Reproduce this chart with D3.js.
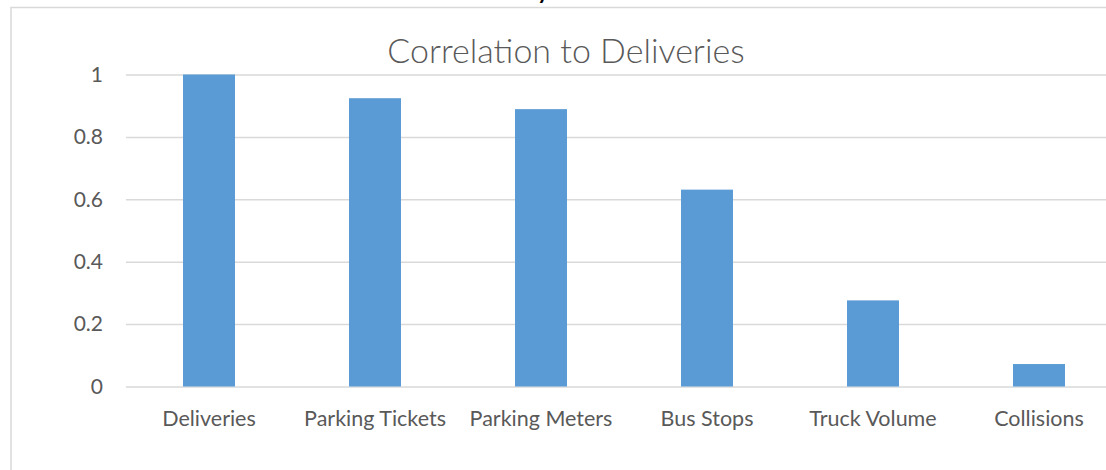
<!DOCTYPE html>
<html>
<head>
<meta charset="utf-8">
<script src="https://cdn.jsdelivr.net/npm/d3@7"></script>
<style>
  html, body { margin: 0; padding: 0; background: #fff; }
  svg { display: block; }
  text { font-family: Lato, "Open Sans", sans-serif; }
</style>
</head>
<body>
<svg id="chart" width="1106" height="470"></svg>
<script>
// Correlation of each factor with delivery counts
const categories = ["Deliveries", "Parking Tickets", "Parking Meters", "Bus Stops", "Truck Volume", "Collisions"];
const correlations = [1, 0.924, 0.889, 0.631, 0.276, 0.072];
const tickValues = [0, 0.2, 0.4, 0.6, 0.8, 1];
const chartTitle = "Correlation to Deliveries";

const svg = d3.select("#chart");
const W = 1106, H = 470;

// plot area (extends past the right edge of the frame)
const plot = { left: 126, right: 1122, top: 74.5, bottom: 386.5 };

const gap = 1 - 52 / 166;
const x = d3.scaleBand()
  .domain(categories)
  .range([plot.left, plot.right])
  .paddingInner(gap)
  .paddingOuter(gap / 2);

const y = d3.scaleLinear()
  .domain([0, 1])
  .range([plot.bottom, plot.top]);

// chart frame
svg.append("path")
  .attr("d", `M11,${H + 2} L11,7.5 L${W + 2},7.5`)
  .attr("fill", "none")
  .attr("stroke", "#d9d9d9")
  .attr("stroke-width", 1.5);

// tail of a heading that sits above the frame
svg.append("text")
  .attr("x", 543)
  .attr("y", -1)
  .attr("text-anchor", "middle")
  .attr("font-size", 22)
  .attr("font-weight", "bold")
  .attr("fill", "#000")
  .text("y");

// gridlines + y labels
const yAxis = d3.axisLeft(y)
  .tickValues(tickValues)
  .tickSize(-(plot.right - plot.left))
  .tickPadding(23)
  .tickFormat(d => d3.format("")(+d.toFixed(1)));

const gy = svg.append("g")
  .attr("transform", `translate(${plot.left},0)`)
  .call(yAxis);
gy.select(".domain").remove();
gy.selectAll(".tick line")
  .attr("stroke", "#d9d9d9")
  .attr("stroke-width", 1.5);
gy.selectAll(".tick text")
  .attr("fill", "#595959")
  .attr("font-size", 21)
  .attr("font-family", "Lato, sans-serif");

// bars
svg.append("g")
  .selectAll("rect")
  .data(categories.map((c, i) => ({ c, v: correlations[i] })))
  .join("rect")
  .attr("x", d => x(d.c))
  .attr("y", d => y(d.v))
  .attr("width", x.bandwidth())
  .attr("height", d => y(0) - y(d.v))
  .attr("fill", "#5b9bd5");

// category labels
const xAxis = d3.axisBottom(x).tickSize(0).tickPadding(24);
const gx = svg.append("g")
  .attr("transform", `translate(0,${plot.bottom})`)
  .call(xAxis);
gx.select(".domain").remove();
gx.selectAll(".tick text")
  .attr("fill", "#595959")
  .attr("font-size", 21.5)
  .attr("font-family", "Lato, sans-serif");

// title
svg.append("text")
  .attr("x", 566)
  .attr("y", 63)
  .attr("text-anchor", "middle")
  .attr("font-size", 34)
  .attr("font-weight", 300)
  .attr("fill", "#595959")
  .text(chartTitle);
</script>
</body>
</html>
